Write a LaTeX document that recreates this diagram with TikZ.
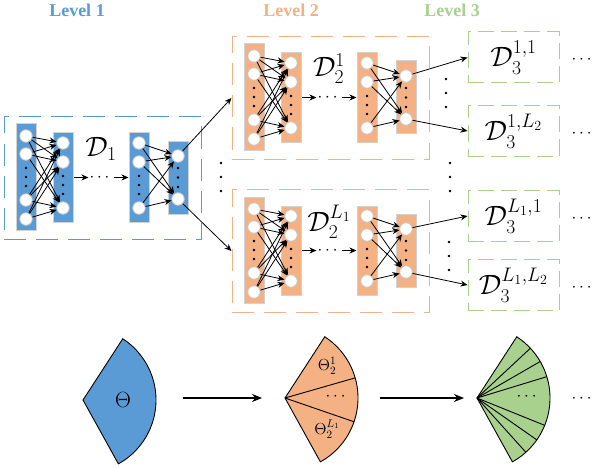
\RequirePackage{fix-cm}
\documentclass[tikz,border=0pt]{standalone}
\usepackage{amsmath}
\usepackage{amssymb}
\usepackage{fontspec}
\setmainfont{Liberation Serif}
\usepackage{tikz}
\usetikzlibrary{arrows.meta}

\definecolor{lvone}{HTML}{5B9BD5}
\definecolor{lvtwo}{HTML}{F4B183}
\definecolor{lvthree}{HTML}{A9D18E}

\tikzset{
  netbox/.style={draw=#1, line width=1pt, dash pattern=on 22pt off 10pt,
    minimum width=197pt, minimum height=123pt, inner sep=0pt},
  cellbox/.style={draw=lvthree, line width=1pt, dash pattern=on 16pt off 7pt,
    minimum width=91pt, minimum height=51pt, inner sep=0pt},
  layer/.style={fill=#1, draw=gray!35, line width=1pt, minimum width=20pt, inner sep=0pt},
  unit/.style={circle, fill=white, draw=gray!45, line width=0.8pt, minimum size=12.5pt, inner sep=0pt},
  link/.style={line width=0.8pt, -{Stealth[length=7pt,width=6pt]}},
  bigarrow/.style={line width=1.1pt, -{Stealth[length=10pt,width=8pt]}},
  sector/.style={draw=black, line width=0.9pt, fill=#1},
  lvtitle/.style={font=\fontsize{18}{20}\selectfont\bfseries, text=#1},
  dlabel/.style={font=\fontsize{28}{30}\selectfont, inner sep=0pt},
  tlabel/.style={font=\fontsize{16}{18}\selectfont, inner sep=0pt},
  more/.style={font=\fontsize{17}{18}\selectfont, inner sep=1pt}
}

% one level of the cascade: name, x, y, colour, label
\newcommand\netblock[5]{%
  \begin{scope}[shift={(#2,#3)}]
    \node[netbox=#4] (#1) at (98.5,62) {};
    \node[layer=#4, minimum height=106pt] (#1-c1) at (22,61) {};
    \node[layer=#4, minimum height=89pt] (#1-c2) at (59,61.5) {};
    \node[layer=#4, minimum height=89pt] (#1-c3) at (135,61.5) {};
    \node[layer=#4, minimum height=73pt] (#1-c4) at (174,61.5) {};
    \foreach \y [count=\i] in {20,38,84,103}
      \node[unit] (#1-1-\i) at (22,\y) {};
    \foreach \y [count=\i] in {27,46,92} {
      \node[unit] (#1-2-\i) at (59,\y) {};
      \node[unit] (#1-3-\i) at (135,\y) {};
    }
    \foreach \y [count=\i] in {40,83}
      \node[unit] (#1-4-\i) at (174,\y) {};
    \foreach \y in {52,61,70}
      \fill (22,\y) circle (1.3);
    \foreach \y in {60,69,78} {
      \fill (59,\y) circle (1.3);
      \fill (135,\y) circle (1.3);
    }
    \foreach \y in {52,61.5,71}
      \fill (174,\y) circle (1.3);
    \foreach \i in {1,...,4}
      \foreach \j in {1,2,3}
        \draw[link] (#1-1-\i) -- (#1-2-\j);
    \foreach \i in {1,2,3}
      \foreach \j in {1,2}
        \draw[link] (#1-3-\i) -- (#1-4-\j);
    \node[more] (#1-dd) at (97,61.5) {$\cdots$};
    \draw[link] (#1-c2.east) -- (#1-dd.west);
    \draw[link] (#1-dd.east) -- (#1-c3.west);
    \node[dlabel] (#1-lab) at (97,33) {#5};
  \end{scope}}

\begin{document}
\begin{tikzpicture}[x=1pt,y=-1pt]
  \useasboundingbox (0,0) rectangle (594,468);

  % titles
  \node[lvtitle=lvone] (title1) at (77,10) {Level 1};
  \node[lvtitle=lvtwo] (title2) at (291,10) {Level 2};
  \node[lvtitle=lvthree] (title3) at (452,10) {Level 3};

  % level 1 and level 2
  \netblock{L1}{4}{116}{lvone}{$\mathcal{D}_1$}
  \netblock{L2a}{232}{36}{lvtwo}{$\mathcal{D}_2^{1}$}
  \netblock{L2b}{232}{189}{lvtwo}{$\mathcal{D}_2^{L_1}$}

  % level 3
  \node[cellbox] (D11) at (513.5,57.5) {};
  \node[cellbox] (D12) at (513.5,131) {};
  \node[cellbox] (D21) at (513.5,216) {};
  \node[cellbox] (D22) at (513.5,285) {};
  \node[dlabel] (D11-lab) at (D11) {$\mathcal{D}_3^{1,1}$};
  \node[dlabel] (D12-lab) at (D12) {$\mathcal{D}_3^{1,L_2}$};
  \node[dlabel] (D21-lab) at (D21) {$\mathcal{D}_3^{L_1,1}$};
  \node[dlabel] (D22-lab) at (D22) {$\mathcal{D}_3^{L_1,L_2}$};
  \node[more] (D11-more) at (583,60) {$\cdots$};
  \node[more] (D12-more) at (583,134) {$\cdots$};
  \node[more] (D21-more) at (583,219) {$\cdots$};
  \node[more] (D22-more) at (583,288) {$\cdots$};

  % links between levels
  \draw[link] (L1-4-1) -- (L2a.west);
  \draw[link] (L1-4-2) -- (L2b.west);
  \draw[link] (L2a-4-1) -- (D11.west);
  \draw[link] (L2a-4-2) -- (D12.west);
  \draw[link] (L2b-4-1) -- (D21.west);
  \draw[link] (L2b-4-2) -- (D22.west);

  % vertical dots
  \foreach \y in {163,177,191}
    \fill (221,\y) circle (1.3);
  \foreach \y in {79,93,107}
    \fill (446,\y) circle (1.3);
  \foreach \y in {163,177,191}
    \fill (450,\y) circle (1.3);
  \foreach \y in {242,256,270}
    \fill (449,\y) circle (1.3);

  % parameter space
  \filldraw[sector=lvone] (83,400) -- ++(61:73) arc[start angle=61, end angle=-57, radius=73] -- cycle;
  \node[font=\fontsize{22}{24}\selectfont, inner sep=0pt] (theta1) at (123,400) {$\Theta$};

  \filldraw[sector=lvtwo] (285,398) -- ++(61:73) arc[start angle=61, end angle=-57, radius=73] -- cycle;
  \foreach \a in {19,-16}
    \draw[line width=0.9pt] (285,398) -- ++(\a:73);
  \node[tlabel] (theta21) at (327,366) {$\Theta_2^{1}$};
  \node[more] (theta2d) at (337,397) {$\cdots$};
  \node[tlabel] (theta2L) at (327,429) {$\Theta_2^{L_1}$};

  \filldraw[sector=lvthree] (477,398) -- ++(61:73) arc[start angle=61, end angle=-57, radius=73] -- cycle;
  \foreach \a in {48,35,22,-17,-30,-43}
    \draw[line width=0.9pt] (477,398) -- ++(\a:73);
  \node[more] (theta3d) at (528,397) {$\cdots$};
  \node[more] (theta3more) at (583,399) {$\cdots$};

  \coordinate (s1-out) at (183,398);
  \coordinate (s2-in) at (262,398);
  \coordinate (s2-out) at (380,398);
  \coordinate (s3-in) at (464,398);
  \draw[bigarrow] (s1-out) -- (s2-in);
  \draw[bigarrow] (s2-out) -- (s3-in);
\end{tikzpicture}
\end{document}
